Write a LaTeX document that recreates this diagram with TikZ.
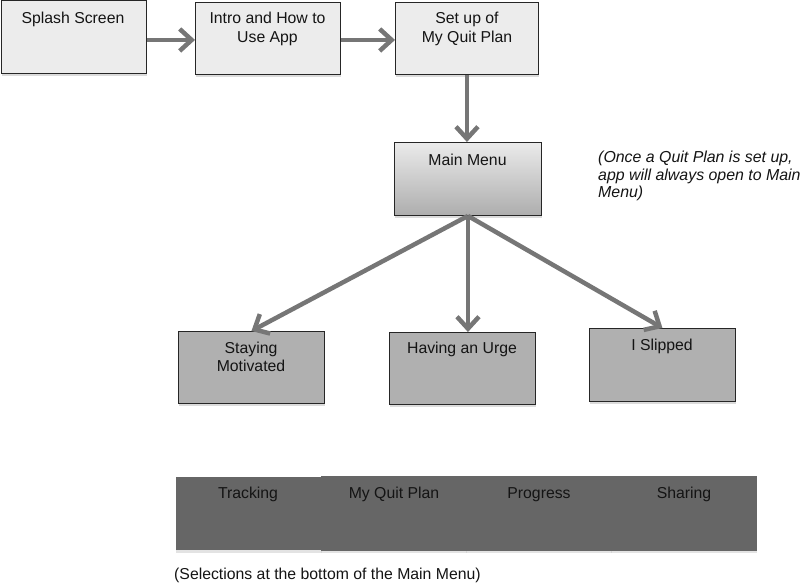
\documentclass[tikz,border=0pt]{standalone}
\usepackage{fontspec}
\setmainfont{Liberation Sans}
\usetikzlibrary{arrows.meta,shadows}
\definecolor{arrgray}{RGB}{118,118,118}
\definecolor{topfill}{RGB}{236,236,236}
\definecolor{midfill}{RGB}{176,176,176}
\definecolor{barfill}{RGB}{102,102,102}
\begin{document}
\begin{tikzpicture}[x=1pt,y=-1pt,
  box/.style={draw=black!85, line width=0.9pt, anchor=north west, inner sep=0pt,
    drop shadow={shadow xshift=1pt, shadow yshift=-2.5pt, fill=black!28}},
  topbox/.style={box, fill=topfill},
  menubox/.style={box, top color=black!8, bottom color=black!32},
  childbox/.style={box, fill=midfill},
  barbox/.style={anchor=north west, inner sep=0pt, fill=barfill,
    drop shadow={shadow xshift=0pt, shadow yshift=-2.5pt, fill=black!22}},
  lbl/.style={font=\fontsize{15.8}{19}\selectfont, align=center, anchor=north, inner sep=0pt, text=black!92},
  barlbl/.style={font=\fontsize{15.8}{19}\selectfont, anchor=base, inner sep=0pt, text=black!92},
  note/.style={font=\fontsize{15.9}{17.5}\selectfont\itshape, align=left, anchor=north west, inner sep=0pt, text=black!92},
  arr/.style={draw=arrgray, line width=4.5pt, -{Straight Barb[length=12pt, width=22pt]}}
]
\useasboundingbox (0,0) rectangle (800,583);

% boxes
\node[topbox, minimum width=145.5pt, minimum height=72.5pt] (splash) at (0.5,0.5) {};
\node[topbox, minimum width=145pt, minimum height=72pt] (intro) at (195,2) {};
\node[topbox, minimum width=143pt, minimum height=72pt] (setup) at (395,2) {};
\node[menubox, minimum width=147pt, minimum height=73pt] (main) at (394,142) {};
\node[childbox, minimum width=146pt, minimum height=72pt] (stay) at (178,331) {};
\node[childbox, minimum width=146pt, minimum height=72pt] (urge) at (389,332) {};
\node[childbox, minimum width=146pt, minimum height=73pt] (slip) at (589,328) {};

% bottom bar
\node[barbox, minimum width=146pt, minimum height=73pt] (bar1) at (176,477) {};
\node[barbox, minimum width=146pt, minimum height=74.5pt] (bar2) at (321,476) {};
\node[barbox, minimum width=146pt, minimum height=74.5pt] (bar3) at (466,476) {};
\node[barbox, minimum width=146pt, minimum height=74.5pt] (bar4) at (611,476) {};

% labels
\node[lbl] (tsplash) at (73,11.5) {Splash Screen};
\node[lbl] (tintro) at (267.5,11.5) {Intro and How to\\Use App};
\node[lbl] (tsetup) at (467,11.5) {Set up of\\My Quit Plan};
\node[lbl] (tmain) at (467.5,153.5) {Main Menu};
\node[lbl, font=\fontsize{15.8}{18.5}\selectfont] (tstay) at (251,341.5) {Staying\\Motivated};
\node[lbl] (turge) at (462,341.5) {Having an Urge};
\node[lbl] (tslip) at (662,338.5) {I Slipped};

\node[note] (tnote) at (598,151) {(Once a Quit Plan is set up,\\app will always open to Main\\Menu)};

\node[barlbl] (tb1) at (248,498) {Tracking};
\node[barlbl] (tb2) at (394,498) {My Quit Plan};
\node[barlbl] (tb3) at (539,498) {Progress};
\node[barlbl] (tb4) at (684,498) {Sharing};

\node[lbl, anchor=north west] (tsel) at (174,568) {(Selections at the bottom of the Main Menu)};

% arrows
\draw[arr] ([yshift=-1.5pt]intro.west -| splash.east) -- ([yshift=-1.5pt]intro.west);
\draw[arr] ([yshift=-1.5pt]setup.west -| intro.east) -- ([yshift=-1.5pt]setup.west);
\draw[arr] (setup.south) -- (setup.south |- main.north);
\draw[arr] (main.south) -- (stay.north);
\draw[arr] (main.south) -- (main.south |- urge.north);
\draw[arr] (main.south) -- (slip.north);
\end{tikzpicture}
\end{document}
